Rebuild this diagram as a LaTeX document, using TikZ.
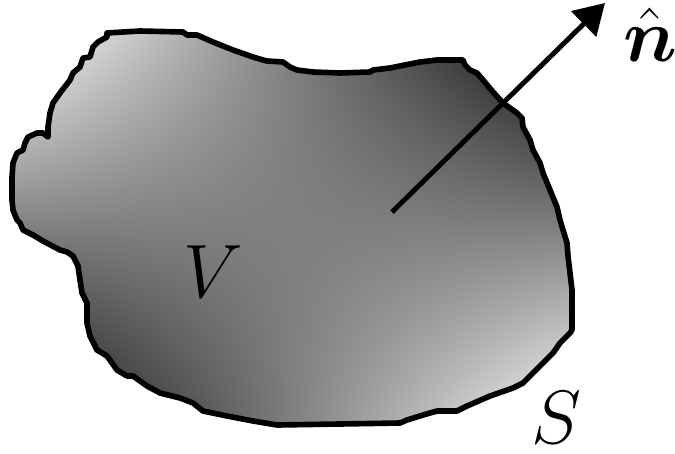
\documentclass[tikz,border=0pt]{standalone}
\usepackage{amsmath,bm}
\usetikzlibrary{
    arrows.meta,
    shadings
}
\tikzset{
  surface/.style={
    draw=black,
    line width=3.2pt,
    line join=round,
    upper left=white,
    upper right=black,
    lower left=black,
    lower right=white,
    shading=bilinear interpolation
  },
  unitnormal/.style={
    line width=2.8pt,
    -{Triangle[length=0.6cm,width=0.7cm]}
  },
  bigtext/.style={
    font=\Huge,
    scale=1.73,
    inner sep=0pt
  }
}

\begin{document}
\begin{tikzpicture}[x=0.02cm,y=-0.02cm]
    \useasboundingbox (0,0) rectangle (675,453);

    % 領域 V（境界 S）
    \shadedraw[surface]
        (107,33) -- (140,31) -- (183,32) -- (187,35) -- (197,35) -- (213,42)
        -- (233,50) -- (253,57) -- (263,60) -- (267,61) -- (283,62) -- (290,67)
        -- (297,70) -- (313,72) -- (340,73) -- (370,72) -- (373,70) -- (390,68)
        -- (400,66) -- (420,62) -- (437,60) -- (463,60) -- (465,65) -- (470,70)
        -- (477,73) -- (483,80) -- (493,92) -- (503,103) -- (517,113) -- (522,118)
        -- (523,127) -- (530,140) -- (533,150) -- (540,163) -- (543,173) -- (550,190)
        -- (557,207) -- (560,220) -- (563,230) -- (567,243) -- (568,256) -- (570,273)
        -- (572,290) -- (572,330) -- (570,333) -- (560,343) -- (553,353) -- (543,363)
        -- (533,373) -- (523,383) -- (513,388) -- (490,396) -- (467,406) -- (457,411)
        -- (437,411) -- (423,415) -- (407,420) -- (400,423) -- (340,424) -- (277,425)
        -- (253,421) -- (227,416) -- (203,411) -- (193,403) -- (180,398) -- (160,393)
        -- (147,386) -- (133,376) -- (127,376) -- (117,370) -- (107,356) -- (97,350)
        -- (90,336) -- (87,323) -- (87,303) -- (82,293) -- (80,280) -- (78,266)
        -- (73,256) -- (67,252) -- (60,250) -- (43,241) -- (33,235) -- (23,230)
        -- (20,223) -- (17,220) -- (13,210) -- (12,200) -- (12,177) -- (13,163)
        -- (17,153) -- (23,150) -- (25,143) -- (28,137) -- (37,133) -- (43,133)
        -- (48,137) -- (48,127) -- (50,113) -- (53,103) -- (60,93) -- (70,80)
        -- (73,73) -- (80,67) -- (83,58) -- (90,57) -- (93,47) -- (98,42)
        -- (107,37) -- cycle;

    % 法線ベクトル
    \coordinate (base) at (392,212);
    \coordinate (tip) at (605,3);
    \draw[unitnormal] (base) -- (tip);

    % ラベル
    \node[bigtext] (nhat) at (650,35) {$\hat{\bm{n}}$};
    \node[bigtext] (V) at (213,272) {$V$};
    \node[bigtext] (S) at (556,418) {$S$};
\end{tikzpicture}
\end{document}
